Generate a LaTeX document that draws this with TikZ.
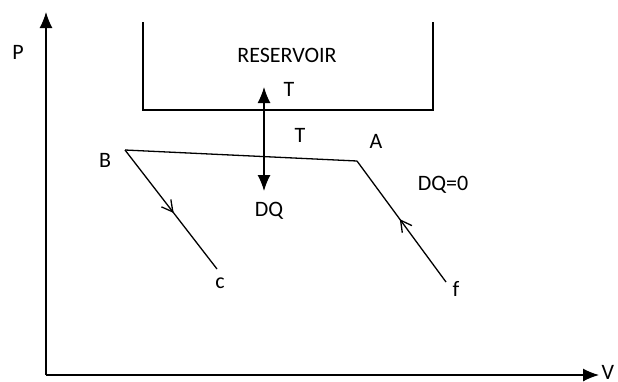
\documentclass[tikz,border=0pt]{standalone}
\usepackage{fontspec}
\setmainfont{Carlito}
\usetikzlibrary{arrows, arrows.meta}
\usetikzlibrary{decorations.markings, math}

\begin{document}
\begin{tikzpicture}[x=1pt,y=-1pt,line width=1.3pt,
  lbl/.style={font=\fontsize{22}{22}\selectfont, inner sep=0pt},
  tip/.style={-{Latex[length=16pt,width=13pt]}},
  midarrow/.style={postaction={decorate},
    decoration={markings, mark=at position #1 with {\draw[line width=1.3pt] (-11pt,6pt) -- (0pt,0pt) -- (-11pt,-6pt);}}}]
\tikzmath{
\ox=46; \oy=375;
}
\useasboundingbox (0,0) rectangle (618,381);

% axes
\coordinate (O) at (\ox,\oy);
\coordinate (Ptop) at (\ox,12);
\coordinate (Vend) at (599,\oy);
\draw[tip] (O) -- (Ptop);
\draw[tip] (O) -- (Vend);
\node[lbl] (P) at (18,52) {P};
\node[lbl, anchor=west] (V) at (Vend) [xshift=2pt, yshift=3pt] {V};

% reservoir
\coordinate (rtl) at (143,22);
\coordinate (rbl) at (143,110);
\coordinate (rbr) at (433,110);
\coordinate (rtr) at (433,22);
\draw (rtl) -- (rbl) -- (rbr) -- (rtr);
\node[lbl] (res) at (287,55) {RESERVOIR};
\node[lbl] (T1) at (289,89) {T};

% heat exchange
\coordinate (qtop) at (264,87);
\coordinate (qbot) at (264,191);
\draw[{Latex[length=16pt,width=13pt]}-{Latex[length=16pt,width=13pt]}] (qtop) -- (qbot);
\node[lbl] (T2) at (300,135) {T};
\node[lbl] (DQ) at (269,211) {DQ};

% cycle
\coordinate (B) at (125,150);
\coordinate (A) at (357,161);
\coordinate (c) at (217,269);
\coordinate (f) at (446,282);
\draw (B) -- (A);
\draw[midarrow=0.52] (B) -- (c);
\draw[midarrow=0.51] (f) -- (A);
\node[lbl] (Blbl) at (105,160) {B};
\node[lbl] (Albl) at (376,141) {A};
\node[lbl] (clbl) at (220,283) {c};
\node[lbl] (flbl) at (456,289) {f};
\node[lbl] (DQ0) at (443,185) {DQ=0};

\end{tikzpicture}
\end{document}
